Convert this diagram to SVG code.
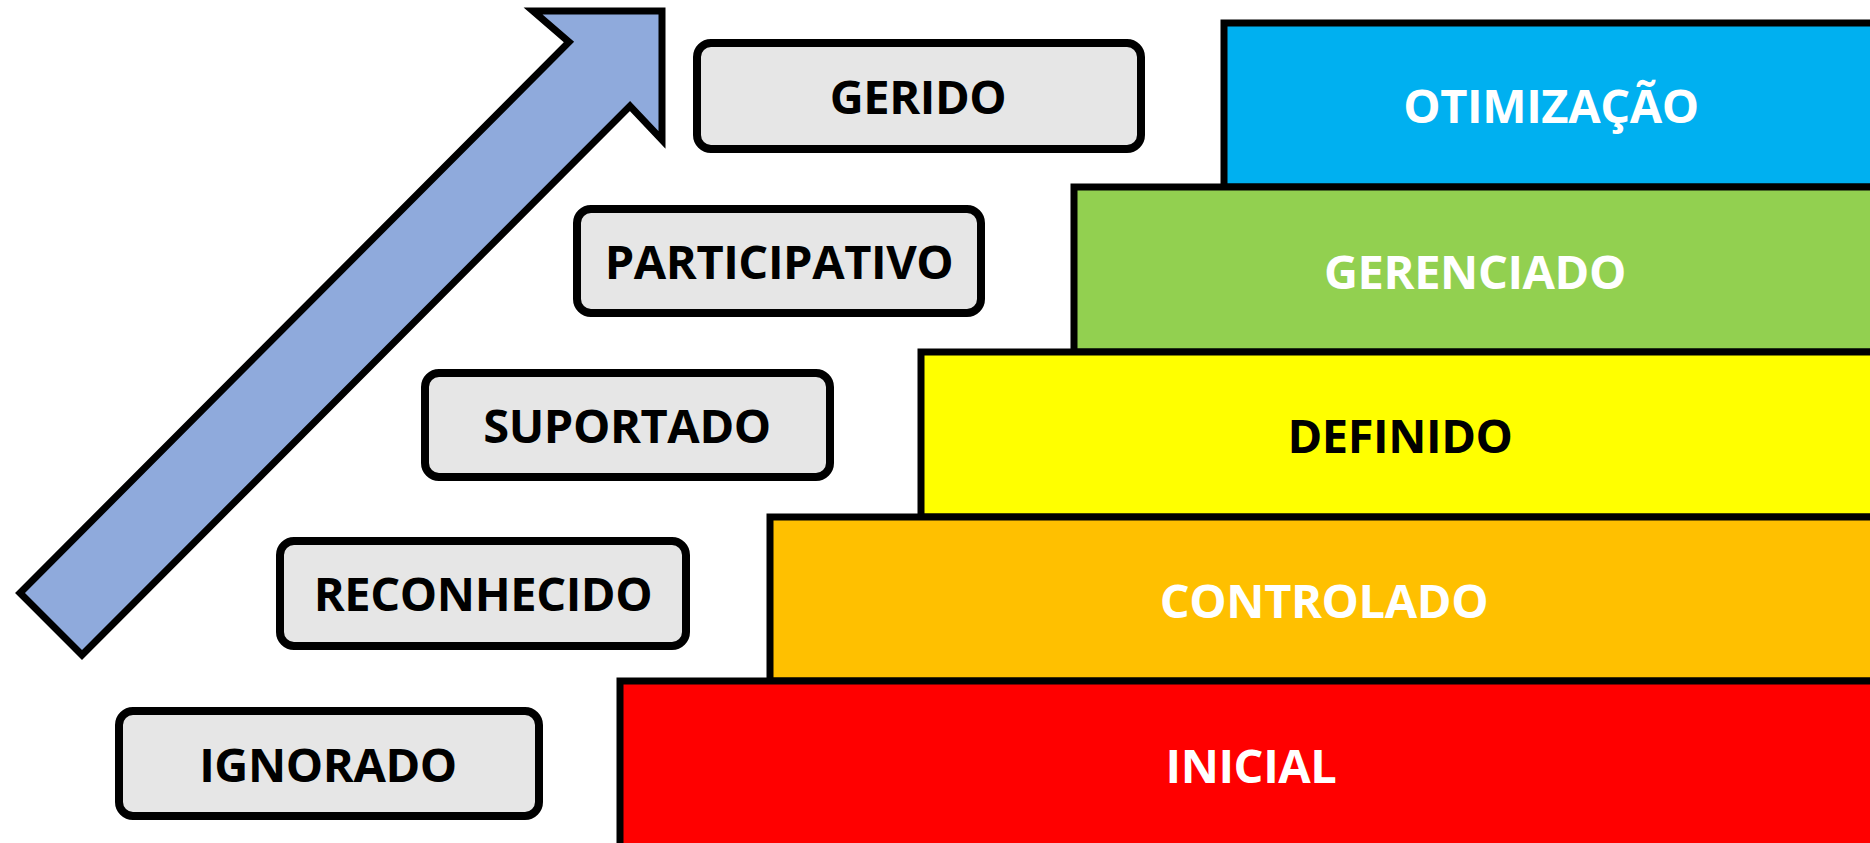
<svg xmlns="http://www.w3.org/2000/svg" width="1870" height="843" viewBox="0 0 1870 843">
<style>
.step{stroke:#000;stroke-width:7}
.lvl{fill:#E6E6E6;stroke:#000;stroke-width:8}
.t{font-family:"Open Sans","Noto Sans","Liberation Sans",sans-serif;font-weight:bold;font-size:47px;letter-spacing:-0.4px;text-anchor:middle}
.w{fill:#FFFFFF}
.k{fill:#000000}
</style>
<rect x="0" y="0" width="1870" height="843" fill="#FFFFFF"/>
<g id="arrow">
<polygon points="533,11 662,11 662,140 630,106 82,655 20,593 569,42" fill="#8FAADC" stroke="#000" stroke-width="7"/>
</g>
<g id="step-otimizacao">
<rect class="step" x="1224" y="23" width="660" height="164" fill="#00B0F0"/>
<text class="t w" x="1551" y="123">OTIMIZAÇÃO</text>
</g>
<g id="step-gerenciado">
<rect class="step" x="1074" y="187" width="810" height="165" fill="#92D050"/>
<text class="t w" x="1475" y="289">GERENCIADO</text>
</g>
<g id="step-definido">
<rect class="step" x="921" y="352" width="963" height="165" fill="#FFFF00"/>
<text class="t k" x="1400" y="453">DEFINIDO</text>
</g>
<g id="step-controlado">
<rect class="step" x="770" y="517" width="1114" height="164" fill="#FFC000"/>
<text class="t w" x="1324" y="618">CONTROLADO</text>
</g>
<g id="step-inicial">
<rect class="step" x="620" y="681" width="1264" height="180" fill="#FF0000"/>
<text class="t w" x="1251" y="783">INICIAL</text>
</g>
<g id="lvl-gerido">
<rect class="lvl" x="697" y="43" width="444" height="106" rx="14"/>
<text class="t k" x="918" y="114">GERIDO</text>
</g>
<g id="lvl-participativo">
<rect class="lvl" x="577" y="209" width="404" height="104" rx="14"/>
<text class="t k" x="779" y="279">PARTICIPATIVO</text>
</g>
<g id="lvl-suportado">
<rect class="lvl" x="425" y="373" width="405" height="104" rx="14"/>
<text class="t k" x="627" y="443">SUPORTADO</text>
</g>
<g id="lvl-reconhecido">
<rect class="lvl" x="280" y="541" width="406" height="105" rx="14"/>
<text class="t k" x="483" y="611">RECONHECIDO</text>
</g>
<g id="lvl-ignorado">
<rect class="lvl" x="119" y="711" width="420" height="105" rx="14"/>
<text class="t k" x="328" y="782">IGNORADO</text>
</g>
<g id="connectors"></g>
</svg>
